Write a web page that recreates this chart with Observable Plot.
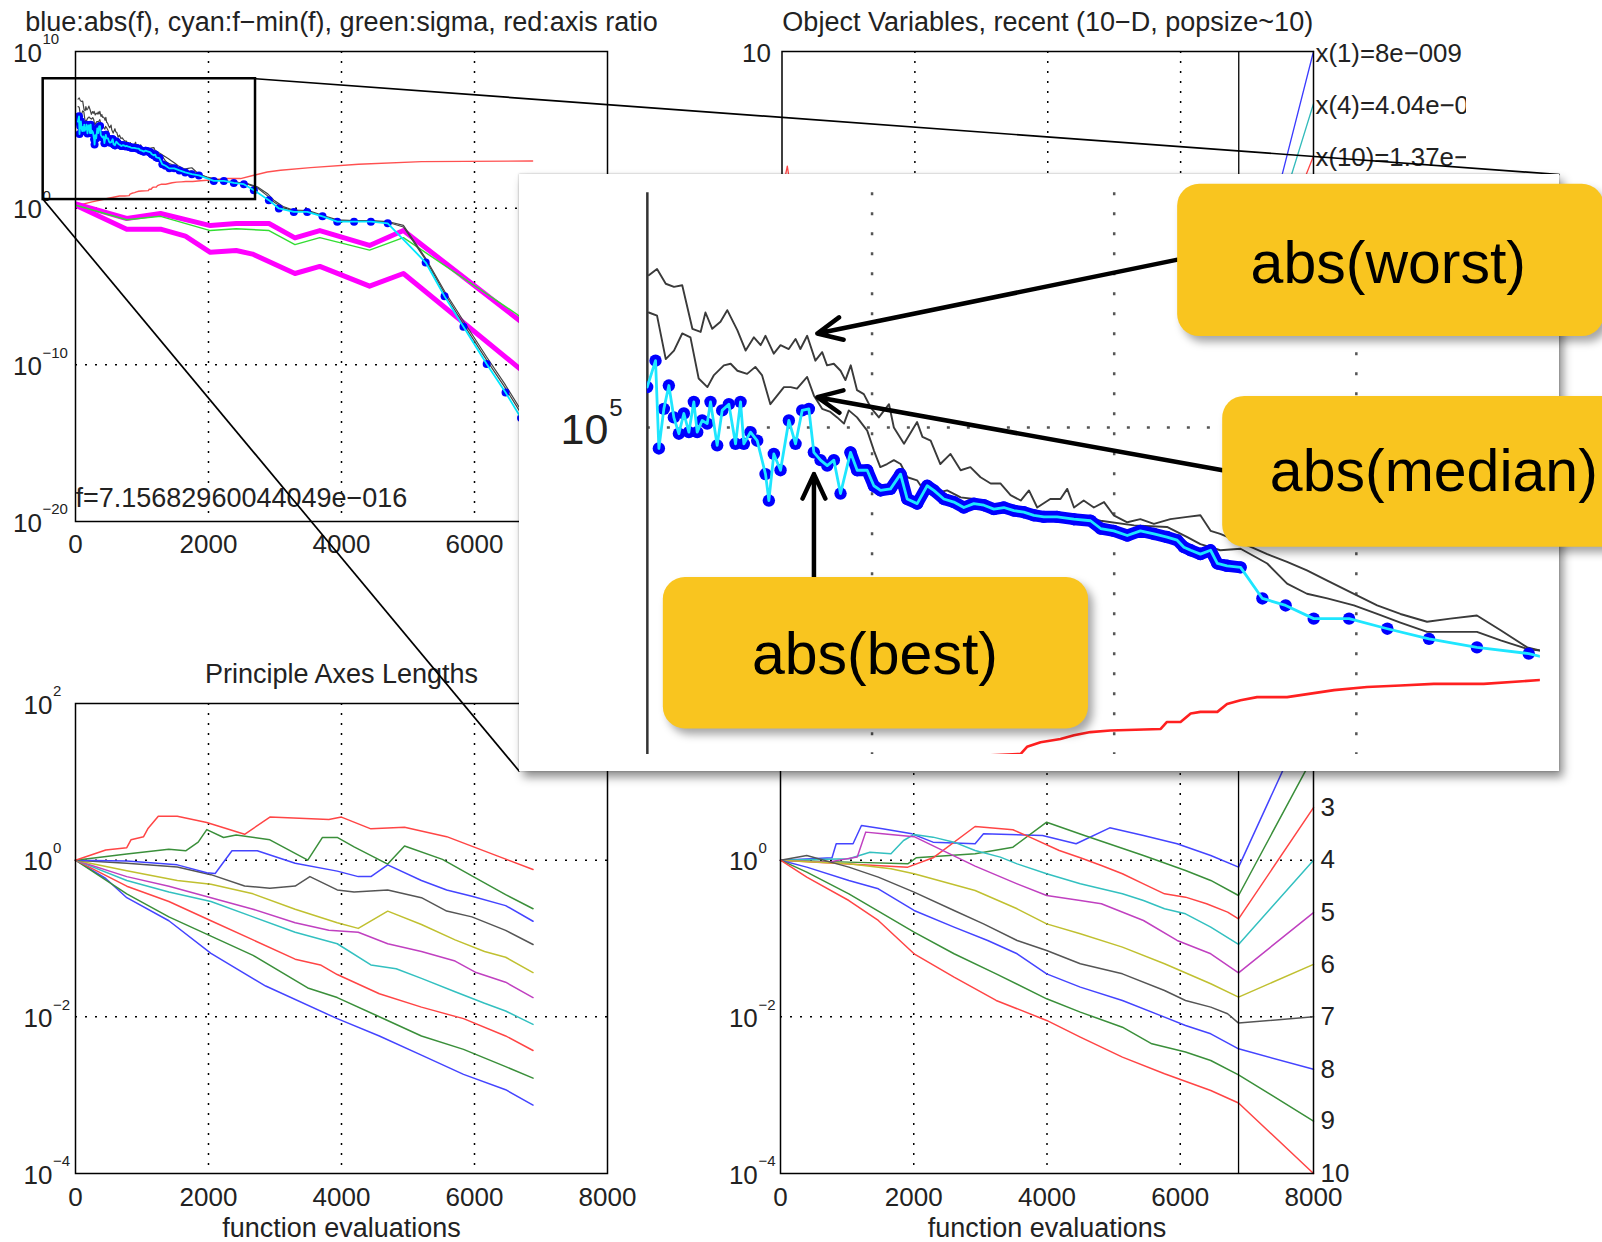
<!DOCTYPE html>
<html>
<head>
<meta charset="utf-8">
<script src="https://cdn.jsdelivr.net/npm/d3@7"></script>
<script src="https://cdn.jsdelivr.net/npm/@observablehq/plot@0.6"></script>
<style>
  html, body { margin: 0; padding: 0; background: #fff; }
  #page { position: relative; width: 1602px; height: 1242px; overflow: hidden; background: #fff; }
  .layer { position: absolute; }
  .layer svg { display: block; }
  #insetBox { position: absolute; background: #fff; box-shadow: 0 0 2px rgba(0,0,0,0.3), 4px 6px 9px rgba(0,0,0,0.45); }
</style>
</head>
<body>
<div id="page"></div>
<script>
// ================= DATA =================
const xTicks = [0, 2000, 4000, 6000, 8000];
const xTicksA = [0, 2000, 4000, 6000];
const gridX = [2000, 4000, 6000];
const fTickExps = [10, 0, -10, -20];
const fGridExps = [0, -10];
const axesTickExps = [2, 0, -2, -4];
const scalingTickExps = [0, -2, -4];
const axesGridExps = [0, -2];
const objTicks = [10];
const objGrid = [5, 0, -5];

const titleA = "blue:abs(f), cyan:f\u2212min(f), green:sigma, red:axis ratio";
const titleB = "Object Variables, recent (10\u2212D, popsize~10)";
const titleC = "Principle Axes Lengths";
const xAxisLabel = "function evaluations";
const finalF = "f=7.15682960044049e\u2212016";

// [function evaluations, log10(value)]
const bestF = [[35.7,5.52],[52.9,5.86],[59.8,4.73],[70.1,5.24],[80.4,5.54],[90.7,5.13],[101.1,4.92],[111.4,5.18],[121.7,4.94],[132,5.33],[138.9,4.94],[149.2,5.09],[159.6,5.05],[166.4,5.33],[180.2,4.77],[190.5,5.22],[204.3,5.3],[218.1,4.79],[228.4,5.33],[235.3,4.79],[249,4.94],[262.8,4.83],[280,4.4],[286.9,4.06],[297.2,4.66],[311,4.45],[328.2,5.09],[342,4.79],[355.7,5.22],[369.5,5.24],[379.8,4.68],[393.6,4.58],[407.4,4.51],[421.1,4.58],[434.9,4.15],[455.5,4.68],[469.3,4.45],[489.9,4.45],[503.7,4.25],[517.5,4.19],[538.1,4.21],[558.8,4.4],[572.5,4.08],[593.2,4.02],[613.8,4.25],[627.6,4.19],[648.2,4.08],[668.9,4.04],[689.5,3.97],[710.2,4.02],[730.8,4.0],[751.5,3.95],[772.1,3.97],[792.8,3.93],[813.4,3.91],[834.1,3.87],[854.7,3.85],[882.2,3.85],[916.6,3.82],[951.1,3.8],[972,3.7],[999,3.67],[1027,3.61],[1054,3.67],[1082,3.63],[1109,3.59],[1130,3.55],[1144,3.46],[1158,3.42],[1178,3.37],[1199,3.42],[1213,3.25],[1233,3.22],[1261,3.2],[1306,2.8],[1354,2.71],[1412,2.54],[1485,2.54],[1564,2.41],[1650,2.28],[1749,2.17],[1856,2.09],[2080,1.74],[2231,1.74],[2381,1.61],[2532,1.53],[2682,1.15],[2908,0.51],[3058,-0.02],[3283,-0.24],[3484,-0.24],[3714,-0.52],[3936,-0.86],[4189,-0.86],[4442,-0.86],[4695,-0.97],[5266,-3.47],[5550,-5.63],[5834,-7.57],[6183,-9.95],[6467,-11.77],[6700,-13.4],[6870,-15.1]];
const worstF = [[39,6.96],[56,7.04],[74,6.85],[91,6.81],[108,6.83],[129,6.27],[146,6.23],[156,6.48],[170,6.27],[187,6.36],[201,6.51],[222,6.25],[239,5.99],[256,6.16],[270,6.06],[280,6.18],[297,5.95],[311,6.06],[328,6.01],[342,6.14],[352,6.01],[366,6.18],[383,5.86],[397,5.97],[407,5.8],[421,5.82],[435,5.73],[445,5.61],[456,5.8],[469,5.48],[483,5.43],[497,5.26],[514,5.13],[535,5.3],[545,5.0],[566,4.79],[593,5.07],[604,4.88],[621,4.83],[641,4.53],[662,4.66],[683,4.45],[703,4.49],[724,4.36],[745,4.28],[765,4.28],[786,4.13],[807,4.06],[824,4.19],[841,3.97],[868,4.08],[889,4.08],[903,4.21],[917,3.97],[937,4.06],[958,3.97],[979,4.04],[999,3.87],[1027,3.78],[1054,3.82],[1082,3.76],[1116,3.82],[1151,3.85],[1178,3.87],[1199,3.67],[1219,3.63],[1261,3.52],[1316,3.37],[1357,3.27],[1398,3.16],[1440,3.03],[1495,2.86],[1543,2.71],[1591,2.6],[1646,2.5],[1694,2.54],[1749,2.58],[1798,2.39],[1853,2.17],[1880,2.13],[1981,1.99],[2181,1.78],[2381,1.68],[2582,1.57],[2733,1.36],[2883,0.94],[2983,0.51],[3133,0.08],[3283,-0.13],[3500,-0.15],[3714,-0.45],[3936,-0.75],[4189,-0.8],[4442,-0.8],[4695,-0.85],[4931,-1.1],[5266,-3.2],[5550,-5.3],[5834,-7.2],[6183,-9.5],[6467,-11.3],[6700,-12.9],[6870,-14.5]];
const medianF = [[39,6.48],[56,6.44],[74,5.88],[91,5.99],[108,6.21],[125,6.16],[142,5.63],[160,5.52],[173,5.67],[194,5.8],[208,5.82],[222,5.73],[242,5.69],[259,5.78],[273,5.67],[290,5.3],[304,5.41],[318,5.52],[332,5.52],[345,5.5],[366,5.65],[380,5.41],[397,5.24],[414,5.2],[428,5.13],[442,5.05],[452,5.22],[469,5.13],[490,4.96],[504,4.7],[517,4.49],[531,4.53],[545,4.58],[559,4.53],[573,4.36],[593,4.32],[607,4.19],[628,4.15],[655,4.19],[683,4.1],[710,4.08],[745,4.02],[779,3.97],[813,3.93],[848,3.89],[889,3.85],[930,3.85],[972,3.8],[1041,3.74],[1109,3.72],[1151,3.59],[1178,3.5],[1219,3.42],[1261,3.44],[1316,3.25],[1357,2.99],[1398,2.86],[1440,2.8],[1495,2.71],[1543,2.6],[1591,2.49],[1646,2.37],[1694,2.37],[1749,2.37],[1798,2.26],[1853,2.15],[1880,2.13],[1981,1.95],[2181,1.76],[2381,1.64],[2582,1.55],[2733,1.3],[2883,0.8],[2983,0.4],[3133,0.0],[3283,-0.18],[3500,-0.2],[3714,-0.5],[3936,-0.8],[4189,-0.83],[4442,-0.83],[4695,-0.9],[4931,-1.2],[5266,-3.3],[5550,-5.45],[5834,-7.4],[6183,-9.7],[6467,-11.5],[6700,-13.1],[6870,-14.8]];
const axisRatio = [[0,0.15],[250,0.4],[480,0.62],[662,0.78],[741,0.78],[807,0.8],[820,0.89],[848,0.95],[889,0.99],[917,1.04],[951,1.08],[992,1.1],[1096,1.12],[1109,1.21],[1137,1.21],[1158,1.32],[1178,1.34],[1213,1.34],[1233,1.44],[1261,1.49],[1295,1.53],[1357,1.53],[1454,1.62],[1522,1.66],[1591,1.68],[1660,1.7],[1763,1.7],[1880,1.75],[1981,1.78],[2282,1.89],[2482,1.89],[2682,2.1],[2883,2.31],[3083,2.42],[3534,2.59],[4257,2.8],[5205,2.97],[6874,3.01]];
const sigmaLine = [[18,0.17],[770,-0.74],[1279,-0.52],[2027,-1.43],[2416,-1.31],[2910,-1.43],[3300,-2.33],[3674,-1.88],[4422,-2.68],[4931,-1.88],[6638,-6.77],[6870,-7.6]];
const axisMaxLine = [[18,0.26],[770,-0.66],[1279,-0.34],[2027,-1.11],[2416,-0.98],[2910,-0.98],[3300,-1.9],[3674,-1.43],[4422,-2.38],[4931,-1.43],[6638,-7.04],[6870,-7.8]];
const axisMinLine = [[18,0.15],[770,-1.34],[1279,-1.34],[1653,-1.79],[2027,-2.82],[2416,-2.7],[2663,-2.93],[3300,-4.17],[3674,-3.72],[4422,-4.98],[4931,-4.17],[6638,-10.1],[6870,-10.9]];

// Object variables (linear)
const objVars = [
  {name: "x(1)=8e\u2212009", color: "#3a3aff", pts: [[0,1.5],[1000,0.3],[3000,0],[6875,0],[8000,10]]},
  {name: "x(4)=4.04e\u2212009", color: "#33bbbb", pts: [[0,-1],[1000,-0.2],[3000,0],[6875,0],[8000,8.22]]},
  {name: "x(10)=1.37e\u2212009", color: "#ff4444", pts: [[0,5.2],[80,6.1],[250,3.5],[1000,0.5],[3000,0],[6875,0],[8000,6.44]]}
];

// Principle axes lengths, log10
const axesLengths = [
  [[0,0],[455,-0.234],[771,-0.479],[1404,-0.773],[2037,-1.19],[2860,-1.607],[3936,-2.023],[4569,-2.244],[5202,-2.489],[5835,-2.734],[6468,-2.93],[6880,-3.126]],
  [[0,0],[771,-0.43],[1404,-0.724],[2037,-0.969],[2670,-1.215],[3493,-1.631],[3936,-1.754],[4569,-1.999],[5202,-2.244],[5835,-2.415],[6468,-2.636],[6880,-2.783]],
  [[0,0],[771,-0.332],[1404,-0.528],[2037,-0.773],[2670,-1.018],[3303,-1.264],[3683,-1.337],[3936,-1.46],[4569,-1.705],[5202,-1.876],[5835,-2.023],[6468,-2.244],[6880,-2.43]],
  [[0,0],[771,-0.259],[1404,-0.406],[2037,-0.528],[2670,-0.724],[3303,-0.92],[3936,-1.067],[4442,-1.337],[4822,-1.386],[5202,-1.509],[5708,-1.68],[6151,-1.827],[6468,-1.925],[6880,-2.097]],
  [[0,0],[771,-0.21],[1404,-0.332],[2037,-0.479],[2670,-0.626],[3303,-0.798],[3809,-0.896],[4252,-0.92],[4695,-1.067],[5202,-1.166],[5708,-1.288],[6025,-1.435],[6468,-1.558],[6880,-1.754]],
  [[0,0],[771,-0.136],[1531,-0.259],[2037,-0.308],[2670,-0.43],[3303,-0.626],[3936,-0.798],[4252,-0.871],[4695,-0.651],[5202,-0.822],[5708,-1.018],[6151,-1.166],[6468,-1.239],[6880,-1.435]],
  [[0,0],[771,-0.038],[1531,-0.087],[2037,-0.185],[2543,-0.33],[2923,-0.357],[3303,-0.33],[3525,-0.21],[3936,-0.38],[4189,-0.406],[4695,-0.38],[5202,-0.479],[5582,-0.65],[5961,-0.724],[6468,-0.896],[6880,-1.077]],
  [[0,0],[771,-0.01],[1531,-0.06],[1974,-0.16],[2100,-0.17],[2353,0.12],[2733,0.12],[3303,-0.04],[3936,-0.14],[4252,-0.21],[4442,-0.21],[4695,-0.06],[5202,-0.26],[5582,-0.38],[5961,-0.46],[6468,-0.58],[6880,-0.78]],
  [[0,0],[771,0.08],[1403,0.14],[1657,0.12],[1845,0.23],[1974,0.39],[2227,0.29],[2416,0.32],[2923,0.26],[3493,0.0],[3714,0.29],[3936,0.29],[4189,0.17],[4695,-0.05],[4948,0.18],[5518,0.01],[5961,-0.2],[6468,-0.44],[6880,-0.62]],
  [[0,0],[455,0.13],[771,0.16],[834,0.26],[1024,0.3],[1087,0.4],[1245,0.56],[1531,0.56],[1974,0.48],[2543,0.33],[2923,0.55],[3810,0.52],[3999,0.55],[4442,0.4],[4948,0.42],[5582,0.3],[6341,0.055],[6880,-0.12]]
];

// Scaling (all main axes), log10, last point = label slot
const scalingLines = [
  [[0,0],[773,0.03],[836,0.209],[1089,0.209],[1215,0.443],[1531,0.4],[1973,0.336],[2289,0.23],[2921,0.209],[3047,0.336],[3932,0.315],[4437,0.209],[4942,0.413],[5448,0.315],[5953,0.209],[6458,0.06],[6875,-0.089],[8000,2]],
  [[0,0],[1026,-0.025],[1910,-0.047],[2036,0.03],[2921,0.081],[3489,0.166],[3995,0.485],[4563,0.315],[5448,0.06],[6079,-0.132],[6458,-0.259],[6875,-0.451],[8000,1.33]],
  [[0,0],[1910,-0.089],[2289,0.03],[2921,0.43],[3489,0.388],[3742,0.294],[4184,0.124],[4500,0.03],[4816,-0.068],[5132,-0.174],[5448,-0.302],[5764,-0.43],[6079,-0.472],[6395,-0.557],[6711,-0.663],[6875,-0.749],[8000,0.67]],
  [[0,0],[1026,0.017],[1342,0.102],[1658,0.081],[1847,0.251],[2005,0.328],[2289,0.294],[2605,0.23],[2921,0.124],[3300,0.039],[3552,-0.047],[3995,-0.174],[4500,-0.302],[4816,-0.366],[5132,-0.429],[5448,-0.515],[5764,-0.621],[6079,-0.685],[6458,-0.855],[6875,-1.076],[8000,0]],
  [[0,0],[710,-0.025],[1152,0.039],[1279,0.358],[1531,0.336],[2005,0.3],[2921,-0.076],[3552,-0.302],[3995,-0.451],[4500,-0.515],[4816,-0.557],[5448,-0.77],[5953,-1.025],[6458,-1.195],[6875,-1.438],[8000,-0.67]],
  [[0,0],[1026,-0.047],[1658,-0.11],[2005,-0.174],[2921,-0.387],[3552,-0.621],[3995,-0.813],[4500,-0.94],[5132,-1.11],[5764,-1.323],[6458,-1.578],[6875,-1.749],[8000,-1.33]],
  [[0,0],[394,0.06],[1026,-0.089],[1468,-0.217],[2005,-0.408],[2605,-0.642],[3047,-0.813],[3552,-1.025],[3995,-1.153],[4500,-1.323],[5132,-1.451],[5764,-1.664],[6079,-1.791],[6458,-1.876],[6711,-1.961],[6875,-2.08],[8000,-2]],
  [[0,0],[394,-0.089],[1026,-0.259],[1468,-0.366],[2005,-0.642],[2605,-0.855],[3110,-1.025],[3552,-1.195],[3995,-1.451],[4500,-1.621],[5132,-1.791],[5764,-2.004],[6079,-2.11],[6458,-2.217],[6875,-2.408],[8000,-2.67]],
  [[0,0],[394,-0.153],[1026,-0.43],[2005,-0.919],[2605,-1.195],[3237,-1.451],[3995,-1.77],[4500,-1.94],[5132,-2.132],[5574,-2.344],[6079,-2.45],[6458,-2.557],[6875,-2.74],[8000,-3.33]],
  [[0,0],[394,-0.217],[1026,-0.515],[1468,-0.77],[2005,-1.195],[2605,-1.493],[3237,-1.791],[3995,-2.046],[4500,-2.259],[5132,-2.514],[5764,-2.727],[6458,-2.94],[6875,-3.1],[8000,-4]]
];
const scalingLabels = ["1","2","3","4","5","6","7","8","9","10"];
const visibleScalingLabels = [2, 3, 4, 5, 6, 7, 8, 9];   // indices of labels 3..10
const lastEval = 6875;

const lineColors = ["#4444ff", "#3a8f3a", "#ff4545", "#33c0c0", "#c040c0", "#c0c030", "#555555", "#4444ff", "#3a8f3a", "#ff4545"];

// zoom annotation
const zoomBox = {x1: -486, x2: 2707, l1: 0.55, l2: 8.26};          // in panel A data
const insetFrame = {x1: -228, x2: 1919.5, l1: 0.5727, l2: 8.256};  // white box, in inset data
const insetPlotArea = {x1: 36, x2: 1880, l1: 0.79, l2: 8.02};      // zoomed axes, in inset data
const insetGridX = [500, 1000, 1500];
const insetGridExp = [5];
const bandRange = [455, 1261];

const callouts = [
  {label: "abs(worst)",  x1: 1131, x2: 2012, l1: 6.17, l2: 8.13, tx: 1566, tl: 7.10},
  {label: "abs(median)", x1: 1224, x2: 2107, l1: 3.46, l2: 5.40, tx: 1660, tl: 4.42},
  {label: "abs(best)",   x1: 69,   x2: 947,  l1: 1.12, l2: 3.07, tx: 506,  tl: 2.07}
];
const calloutArrows = [
  {x1: 1131, l1: 7.16, x2: 387, l2: 6.21},
  {x1: 1224, l1: 4.45, x2: 387, l2: 5.39},
  {x1: 380,  l1: 3.07, x2: 380, l2: 4.40}
];

// ================= RENDER =================
const FONT = '"Liberation Sans", Arial, Helvetica, sans-serif';
const INK = "#222";
const page = document.getElementById("page");
const baseStyle = {background: "transparent", fontFamily: FONT, overflow: "visible"};

function place(node, left, top, width, height, clip) {
  const div = document.createElement("div");
  div.className = "layer";
  Object.assign(div.style, {left: left + "px", top: top + "px", width: width + "px", height: height + "px"});
  if (clip) div.style.overflow = "hidden";
  div.appendChild(node);
  page.appendChild(div);
  return div;
}
const P = (arr) => arr.map(([x, l]) => ({x, y: 10 ** l}));
const L = (arr) => arr.map(([x, y]) => ({x, y}));
const expText = (e) => (e < 0 ? "\u2212" + (-e) : String(e));
const txt = {fill: INK, fontFamily: FONT, lineAnchor: "middle"};

function logYLabels(exps, baseDx, supDx) {
  return [
    Plot.text(exps, {frameAnchor: "left", y: (e) => 10 ** e, text: () => "10", textAnchor: "start", dx: baseDx, dy: 2, fontSize: 26, ...txt}),
    Plot.text(exps, {frameAnchor: "left", y: (e) => 10 ** e, text: expText, textAnchor: "start", dx: supDx, dy: -12, fontSize: 15, ...txt})
  ];
}
function xLabels(ticks, dy) {
  return Plot.text(ticks, {x: (d) => d, frameAnchor: "bottom", dy, text: (d) => String(d), fontSize: 26, ...txt});
}
function title(t, dy) {
  return Plot.text([t], {frameAnchor: "top", dy, text: (d) => d, fontSize: 27, ...txt});
}
function xTitle(dy) {
  return Plot.text([xAxisLabel], {frameAnchor: "bottom", dy, text: (d) => d, fontSize: 27, ...txt});
}
const dotted = {stroke: "#000", strokeWidth: 1.5, strokeDasharray: "2,8"};
function gridLog(exps) {
  return [Plot.ruleX(gridX, dotted), Plot.ruleY(exps.map((e) => 10 ** e), dotted)];
}

// ---------- Panel A ----------
const bestPts = P(bestF);
const inBand = (d) => d.x >= bandRange[0] && d.x <= bandRange[1];
const plotA = Plot.plot({
  width: 640, height: 580,
  marginLeft: 75, marginRight: 33, marginTop: 51, marginBottom: 59,
  style: baseStyle,
  x: {domain: [0, 8000], axis: null},
  y: {type: "log", domain: [1e-20, 1e10], axis: null},
  marks: [
    ...gridLog(fGridExps),
    Plot.line(P(axisRatio), {x: "x", y: "y", stroke: "#ff5050", strokeWidth: 1.4, clip: true}),
    Plot.line(P(axisMaxLine), {x: "x", y: "y", stroke: "#ff00ff", strokeWidth: 5, strokeLinejoin: "round", clip: true}),
    Plot.line(P(axisMinLine), {x: "x", y: "y", stroke: "#ff00ff", strokeWidth: 5, strokeLinejoin: "round", clip: true}),
    Plot.line(P(sigmaLine), {x: "x", y: "y", stroke: "#33dd33", strokeWidth: 1.4, clip: true}),
    Plot.line(P(worstF), {x: "x", y: "y", stroke: "#444", strokeWidth: 1.2, clip: true}),
    Plot.line(P(medianF), {x: "x", y: "y", stroke: "#444", strokeWidth: 1.2, clip: true}),
    Plot.line(bestPts.filter(inBand), {x: "x", y: "y", stroke: "#0000ff", strokeWidth: 8, strokeLinecap: "round", strokeLinejoin: "round", clip: true}),
    Plot.dot(bestPts, {x: "x", y: "y", r: 4, fill: "#0000ff", clip: true}),
    Plot.line(bestPts, {x: "x", y: "y", stroke: "#00e8ff", strokeWidth: 1.8, clip: true}),
    Plot.frame({stroke: "#000", strokeWidth: 1.5}),
    title(titleA, -29.5),
    xLabels(xTicksA, 23.6),
    ...logYLabels(fTickExps, -62.4, -33),
    Plot.text([finalF], {frameAnchor: "bottom-left", textAnchor: "start", dy: -23.4, text: (d) => d, fontSize: 27, ...txt}),
    Plot.rect([zoomBox], {x1: "x1", x2: "x2", y1: (d) => 10 ** d.l1, y2: (d) => 10 ** d.l2, fill: "none", stroke: "#000", strokeWidth: 2.5})
  ]
});
place(plotA, 0, 0, 640, 580);

// ---------- Panel B ----------
const plotB = Plot.plot({
  width: 764, height: 580,
  marginLeft: 81.5, marginRight: 151, marginTop: 51, marginBottom: 59,
  style: baseStyle,
  x: {domain: [0, 8000], axis: null},
  y: {domain: [-6, 10], axis: null},
  marks: [
    Plot.ruleX(gridX, dotted),
    Plot.ruleY(objGrid, dotted),
    ...objVars.map((v) => Plot.line(L(v.pts), {x: "x", y: "y", stroke: v.color, strokeWidth: 1.3})),
    Plot.ruleX([lastEval], {stroke: "#000", strokeWidth: 1.3}),
    Plot.frame({stroke: "#000", strokeWidth: 1.5}),
    title(titleB, -29.5),
    Plot.text(objTicks, {frameAnchor: "left", y: (d) => d, text: (d) => String(d), textAnchor: "end", dx: -11, dy: 2, fontSize: 26, ...txt}),
    Plot.text(objVars, {x: 8000, y: (v) => v.pts[v.pts.length - 1][1], text: "name", textAnchor: "start", dx: 2, dy: 2, fontSize: 25.8, ...txt})
  ]
});
place(plotB, 700, 0, 766, 580, true);

// ---------- Panel C ----------
const plotC = Plot.plot({
  width: 640, height: 622,
  marginLeft: 75, marginRight: 33, marginTop: 83, marginBottom: 69,
  style: baseStyle,
  x: {domain: [0, 8000], axis: null},
  y: {type: "log", domain: [1e-4, 1e2], axis: null},
  marks: [
    ...gridLog(axesGridExps),
    ...axesLengths.map((s, i) => Plot.line(P(s), {x: "x", y: "y", stroke: lineColors[i], strokeWidth: 1.5})),
    Plot.frame({stroke: "#000", strokeWidth: 1.5}),
    title(titleC, -29),
    xLabels(xTicks, 24.5),
    xTitle(55),
    ...logYLabels(axesTickExps, -52, -22.4)
  ]
});
place(plotC, 0, 620, 640, 622);

// ---------- Panel D ----------
const plotD = Plot.plot({
  width: 902, height: 622,
  marginLeft: 80, marginRight: 289, marginTop: 83, marginBottom: 69,
  style: baseStyle,
  x: {domain: [0, 8000], axis: null},
  y: {type: "log", domain: [1e-4, 1e2], axis: null},
  marks: [
    ...gridLog(axesGridExps),
    ...scalingLines.map((s, i) => Plot.line(P(s), {x: "x", y: "y", stroke: lineColors[i], strokeWidth: 1.5})),
    Plot.ruleX([lastEval], {stroke: "#000", strokeWidth: 1.3}),
    Plot.frame({stroke: "#000", strokeWidth: 1.5}),
    xLabels(xTicks, 24.5),
    xTitle(55),
    ...logYLabels(scalingTickExps, -51.6, -22),
    Plot.text(visibleScalingLabels, {x: 8000, y: (i) => 10 ** scalingLines[i][scalingLines[i].length - 1][1], text: (i) => scalingLabels[i], textAnchor: "start", dx: 7, fontSize: 26, ...txt})
  ]
});
place(plotD, 700, 620, 902, 622);

// ---------- Inset ----------
const INSET_LEFT = 519, INSET_TOP = 174, INSET_W = 1083, INSET_H = 597;
const pxPerEval = INSET_W / (2008.3 - insetFrame.x1);
const pxPerDecade = INSET_H / (insetFrame.l2 - insetFrame.l1);
const plotI = Plot.plot({
  width: INSET_W, height: INSET_H,
  marginLeft: (insetPlotArea.x1 - insetFrame.x1) * pxPerEval,
  marginRight: INSET_W - (insetPlotArea.x2 - insetFrame.x1) * pxPerEval,
  marginTop: (insetFrame.l2 - insetPlotArea.l2) * pxPerDecade,
  marginBottom: (insetPlotArea.l1 - insetFrame.l1) * pxPerDecade,
  style: baseStyle,
  x: {domain: [insetPlotArea.x1, insetPlotArea.x2], axis: null},
  y: {type: "log", domain: [10 ** insetPlotArea.l1, 10 ** insetPlotArea.l2], axis: null},
  marks: [
    Plot.ruleX(insetGridX, {stroke: "#555", strokeWidth: 2.5, strokeDasharray: "3,17"}),
    Plot.ruleY(insetGridExp.map((e) => 10 ** e), {stroke: "#555", strokeWidth: 2.5, strokeDasharray: "3,17"}),
    Plot.ruleX([insetPlotArea.x1], {stroke: "#333", strokeWidth: 2.5}),
    Plot.text(insetGridExp, {x: insetPlotArea.x1, y: (e) => 10 ** e, text: () => "10", textAnchor: "end", dx: -39, dy: 3, fontSize: 43, ...txt}),
    Plot.text(insetGridExp, {x: insetPlotArea.x1, y: (e) => 10 ** e, text: expText, textAnchor: "start", dx: -38, dy: -19, fontSize: 24, ...txt}),
    Plot.line(P(axisRatio), {x: "x", y: "y", stroke: "#ff2020", strokeWidth: 2.6, clip: true}),
    Plot.line(P(worstF), {x: "x", y: "y", stroke: "#3a3a3a", strokeWidth: 1.9, clip: true}),
    Plot.line(P(medianF), {x: "x", y: "y", stroke: "#3a3a3a", strokeWidth: 1.9, clip: true}),
    Plot.line(bestPts.filter(inBand), {x: "x", y: "y", stroke: "#0000ff", strokeWidth: 12, strokeLinecap: "round", strokeLinejoin: "round", clip: true}),
    Plot.dot(bestPts, {x: "x", y: "y", r: 6.2, fill: "#0000ff", clip: true}),
    Plot.line(bestPts, {x: "x", y: "y", stroke: "#1ee6ff", strokeWidth: 2.8, clip: true}),
    Plot.arrow(calloutArrows, {x1: "x1", y1: (d) => 10 ** d.l1, x2: "x2", y2: (d) => 10 ** d.l2, stroke: "#000", strokeWidth: 4.5, headLength: 9, headAngle: 50}),
    Plot.rect(callouts, {x1: "x1", x2: "x2", y1: (d) => 10 ** d.l1, y2: (d) => 10 ** d.l2, fill: "#F9C51F", rx: 22, ry: 22}),
    Plot.text(callouts, {x: "tx", y: (d) => 10 ** d.tl, text: "label", fontSize: 59, fill: "#000", fontFamily: FONT, lineAnchor: "middle"})
  ]
});
d3.select(plotI).selectAll('g[aria-label="rect"] rect').style("filter", "drop-shadow(5px 6px 4px rgba(0,0,0,0.35))");

// ---------- Connectors (from panel A zoom box to inset frame) ----------
const ax = plotA.scale("x"), ay = plotA.scale("y");
const ix = plotI.scale("x"), iy = plotI.scale("y");
const connectors = [
  {x1: ax.apply(zoomBox.x2), y1: ay.apply(10 ** zoomBox.l2), x2: INSET_LEFT + ix.apply(insetFrame.x2), y2: INSET_TOP + iy.apply(10 ** insetFrame.l2)},
  {x1: ax.apply(zoomBox.x1), y1: ay.apply(10 ** zoomBox.l1), x2: INSET_LEFT + ix.apply(insetFrame.x1), y2: INSET_TOP + iy.apply(10 ** insetFrame.l1)}
];
const overlay = Plot.plot({
  width: 1602, height: 1242, margin: 0,
  style: baseStyle,
  x: {type: "identity"}, y: {type: "identity"},
  marks: [Plot.link(connectors, {x1: "x1", y1: "y1", x2: "x2", y2: "y2", stroke: "#000", strokeWidth: 1.7})]
});
place(overlay, 0, 0, 1602, 1242);

// white inset box
const box = document.createElement("div");
box.id = "insetBox";
const bx1 = INSET_LEFT + ix.apply(insetFrame.x1), bx2 = INSET_LEFT + ix.apply(insetFrame.x2);
const by1 = INSET_TOP + iy.apply(10 ** insetFrame.l2), by2 = INSET_TOP + iy.apply(10 ** insetFrame.l1);
Object.assign(box.style, {left: bx1 + "px", top: by1 + "px", width: (bx2 - bx1) + "px", height: (by2 - by1) + "px"});
page.appendChild(box);

place(plotI, INSET_LEFT, INSET_TOP, INSET_W, INSET_H);
</script>
</body>
</html>
